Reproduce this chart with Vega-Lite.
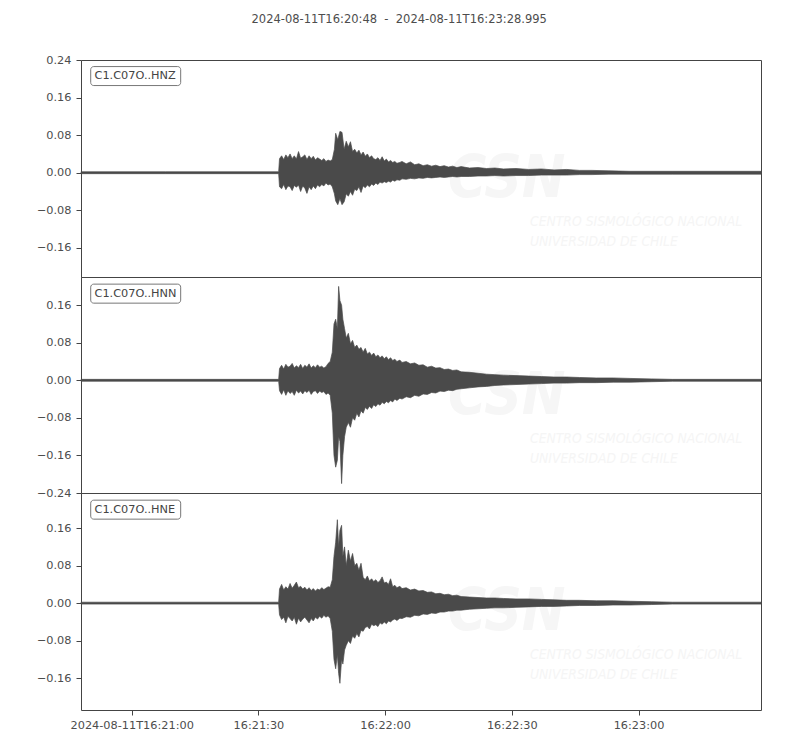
{
  "$schema": "https://vega.github.io/schema/vega-lite/v6.json",
  "background": "white",
  "padding": {"left": 35, "top": 14, "right": 40, "bottom": 5},
  "bounds": "flush",
  "title": {
    "text": "2024-08-11T16:20:48\u00a0\u00a0-\u00a0\u00a02024-08-11T16:23:28.995",
    "font": "DejaVu Sans",
    "fontSize": 11.5,
    "fontWeight": "normal",
    "color": "#4d4d4d",
    "frame": "bounds",
    "anchor": "middle",
    "offset": 28
  },
  "config": {
    "view": {"stroke": "#444444", "strokeWidth": 1},
    "axis": {
      "labelFont": "DejaVu Sans",
      "labelFontSize": 11.3,
      "labelColor": "#4d4d4d",
      "tickColor": "#444444",
      "tickSize": 5,
      "labelPadding": 5,
      "domain": false,
      "grid": false,
      "title": null,
      "labelFlush": false
    },
    "text": {"font": "DejaVu Sans"}
  },
  "spacing": 0,
  "datasets": {
    "wave": [
      {"c": "HNZ", "t": 0, "lo": -0.002, "hi": 0.002},
      {"c": "HNZ", "t": 20, "lo": -0.002, "hi": 0.002},
      {"c": "HNZ", "t": 46.8, "lo": -0.002, "hi": 0.002},
      {"c": "HNZ", "t": 47.0, "lo": -0.03, "hi": 0.03},
      {"c": "HNZ", "t": 47.5, "lo": -0.034, "hi": 0.036},
      {"c": "HNZ", "t": 48.0, "lo": -0.025, "hi": 0.028},
      {"c": "HNZ", "t": 48.5, "lo": -0.036, "hi": 0.038},
      {"c": "HNZ", "t": 49.0, "lo": -0.028, "hi": 0.032},
      {"c": "HNZ", "t": 49.5, "lo": -0.03, "hi": 0.04},
      {"c": "HNZ", "t": 50.0, "lo": -0.038, "hi": 0.03},
      {"c": "HNZ", "t": 50.5, "lo": -0.027, "hi": 0.036},
      {"c": "HNZ", "t": 51.0, "lo": -0.031, "hi": 0.029},
      {"c": "HNZ", "t": 51.5, "lo": -0.026, "hi": 0.045},
      {"c": "HNZ", "t": 52.0, "lo": -0.04, "hi": 0.031},
      {"c": "HNZ", "t": 52.5, "lo": -0.028, "hi": 0.034},
      {"c": "HNZ", "t": 53.0, "lo": -0.033, "hi": 0.038},
      {"c": "HNZ", "t": 53.5, "lo": -0.044, "hi": 0.028},
      {"c": "HNZ", "t": 54.0, "lo": -0.03, "hi": 0.036},
      {"c": "HNZ", "t": 54.5, "lo": -0.036, "hi": 0.03},
      {"c": "HNZ", "t": 55.0, "lo": -0.028, "hi": 0.035},
      {"c": "HNZ", "t": 55.5, "lo": -0.034, "hi": 0.027},
      {"c": "HNZ", "t": 56.0, "lo": -0.026, "hi": 0.032},
      {"c": "HNZ", "t": 56.5, "lo": -0.03, "hi": 0.029},
      {"c": "HNZ", "t": 57.0, "lo": -0.025, "hi": 0.026},
      {"c": "HNZ", "t": 57.5, "lo": -0.028, "hi": 0.03},
      {"c": "HNZ", "t": 58.0, "lo": -0.022, "hi": 0.024},
      {"c": "HNZ", "t": 58.5, "lo": -0.026, "hi": 0.027},
      {"c": "HNZ", "t": 59.0, "lo": -0.024, "hi": 0.025},
      {"c": "HNZ", "t": 59.5, "lo": -0.03, "hi": 0.028},
      {"c": "HNZ", "t": 60.0, "lo": -0.045, "hi": 0.05},
      {"c": "HNZ", "t": 60.3, "lo": -0.06, "hi": 0.084},
      {"c": "HNZ", "t": 60.8, "lo": -0.068, "hi": 0.07},
      {"c": "HNZ", "t": 61.3, "lo": -0.055, "hi": 0.088},
      {"c": "HNZ", "t": 61.8, "lo": -0.068, "hi": 0.086},
      {"c": "HNZ", "t": 62.3, "lo": -0.062, "hi": 0.05},
      {"c": "HNZ", "t": 62.8, "lo": -0.045, "hi": 0.067},
      {"c": "HNZ", "t": 63.3, "lo": -0.05, "hi": 0.055},
      {"c": "HNZ", "t": 63.8, "lo": -0.04, "hi": 0.066},
      {"c": "HNZ", "t": 64.3, "lo": -0.048, "hi": 0.045},
      {"c": "HNZ", "t": 64.8, "lo": -0.035, "hi": 0.05},
      {"c": "HNZ", "t": 65.3, "lo": -0.038, "hi": 0.042},
      {"c": "HNZ", "t": 65.8, "lo": -0.03, "hi": 0.048},
      {"c": "HNZ", "t": 66.3, "lo": -0.042, "hi": 0.038},
      {"c": "HNZ", "t": 66.8, "lo": -0.028, "hi": 0.044},
      {"c": "HNZ", "t": 67.3, "lo": -0.032, "hi": 0.035},
      {"c": "HNZ", "t": 67.8, "lo": -0.026, "hi": 0.04},
      {"c": "HNZ", "t": 68.3, "lo": -0.03, "hi": 0.032},
      {"c": "HNZ", "t": 68.8, "lo": -0.024, "hi": 0.036},
      {"c": "HNZ", "t": 69.3, "lo": -0.027, "hi": 0.03},
      {"c": "HNZ", "t": 69.8, "lo": -0.022, "hi": 0.028},
      {"c": "HNZ", "t": 70.3, "lo": -0.025, "hi": 0.032},
      {"c": "HNZ", "t": 70.8, "lo": -0.02, "hi": 0.026},
      {"c": "HNZ", "t": 71.3, "lo": -0.022, "hi": 0.034},
      {"c": "HNZ", "t": 71.8, "lo": -0.019, "hi": 0.025},
      {"c": "HNZ", "t": 72.3, "lo": -0.021, "hi": 0.029},
      {"c": "HNZ", "t": 72.8, "lo": -0.018, "hi": 0.023},
      {"c": "HNZ", "t": 73.3, "lo": -0.02, "hi": 0.026},
      {"c": "HNZ", "t": 73.8, "lo": -0.016, "hi": 0.022},
      {"c": "HNZ", "t": 74.3, "lo": -0.018, "hi": 0.024},
      {"c": "HNZ", "t": 74.8, "lo": -0.015, "hi": 0.02},
      {"c": "HNZ", "t": 75.5, "lo": -0.016, "hi": 0.022},
      {"c": "HNZ", "t": 76, "lo": -0.013, "hi": 0.024},
      {"c": "HNZ", "t": 77, "lo": -0.014, "hi": 0.019},
      {"c": "HNZ", "t": 78, "lo": -0.012, "hi": 0.023},
      {"c": "HNZ", "t": 79, "lo": -0.013, "hi": 0.017},
      {"c": "HNZ", "t": 80, "lo": -0.011, "hi": 0.019},
      {"c": "HNZ", "t": 81, "lo": -0.012, "hi": 0.015},
      {"c": "HNZ", "t": 82, "lo": -0.01, "hi": 0.017},
      {"c": "HNZ", "t": 83, "lo": -0.011, "hi": 0.014},
      {"c": "HNZ", "t": 84, "lo": -0.01, "hi": 0.016},
      {"c": "HNZ", "t": 85, "lo": -0.009, "hi": 0.013},
      {"c": "HNZ", "t": 86, "lo": -0.01, "hi": 0.015},
      {"c": "HNZ", "t": 87, "lo": -0.009, "hi": 0.012},
      {"c": "HNZ", "t": 88, "lo": -0.008, "hi": 0.014},
      {"c": "HNZ", "t": 89, "lo": -0.009, "hi": 0.011},
      {"c": "HNZ", "t": 90, "lo": -0.008, "hi": 0.013},
      {"c": "HNZ", "t": 92, "lo": -0.008, "hi": 0.01},
      {"c": "HNZ", "t": 94, "lo": -0.007, "hi": 0.011},
      {"c": "HNZ", "t": 96, "lo": -0.007, "hi": 0.009},
      {"c": "HNZ", "t": 98, "lo": -0.006, "hi": 0.01},
      {"c": "HNZ", "t": 100, "lo": -0.007, "hi": 0.008},
      {"c": "HNZ", "t": 103, "lo": -0.006, "hi": 0.009},
      {"c": "HNZ", "t": 106, "lo": -0.006, "hi": 0.007},
      {"c": "HNZ", "t": 109, "lo": -0.005, "hi": 0.008},
      {"c": "HNZ", "t": 112, "lo": -0.005, "hi": 0.006},
      {"c": "HNZ", "t": 115, "lo": -0.005, "hi": 0.007},
      {"c": "HNZ", "t": 118, "lo": -0.004, "hi": 0.005},
      {"c": "HNZ", "t": 121, "lo": -0.004, "hi": 0.005},
      {"c": "HNZ", "t": 125, "lo": -0.003, "hi": 0.004},
      {"c": "HNZ", "t": 130, "lo": -0.003, "hi": 0.003},
      {"c": "HNZ", "t": 140, "lo": -0.003, "hi": 0.003},
      {"c": "HNZ", "t": 161, "lo": -0.003, "hi": 0.003},

      {"c": "HNN", "t": 0, "lo": -0.002, "hi": 0.002},
      {"c": "HNN", "t": 46.8, "lo": -0.002, "hi": 0.002},
      {"c": "HNN", "t": 47.0, "lo": -0.022, "hi": 0.025},
      {"c": "HNN", "t": 47.5, "lo": -0.03, "hi": 0.032},
      {"c": "HNN", "t": 48.0, "lo": -0.02, "hi": 0.024},
      {"c": "HNN", "t": 48.5, "lo": -0.032, "hi": 0.034},
      {"c": "HNN", "t": 49.0, "lo": -0.022, "hi": 0.028},
      {"c": "HNN", "t": 49.5, "lo": -0.028, "hi": 0.03},
      {"c": "HNN", "t": 50.0, "lo": -0.024, "hi": 0.036},
      {"c": "HNN", "t": 50.5, "lo": -0.032, "hi": 0.026},
      {"c": "HNN", "t": 51.0, "lo": -0.021, "hi": 0.031},
      {"c": "HNN", "t": 51.5, "lo": -0.027, "hi": 0.027},
      {"c": "HNN", "t": 52.0, "lo": -0.023, "hi": 0.034},
      {"c": "HNN", "t": 52.5, "lo": -0.029, "hi": 0.025},
      {"c": "HNN", "t": 53.0, "lo": -0.022, "hi": 0.032},
      {"c": "HNN", "t": 53.5, "lo": -0.026, "hi": 0.028},
      {"c": "HNN", "t": 54.0, "lo": -0.021, "hi": 0.035},
      {"c": "HNN", "t": 54.5, "lo": -0.03, "hi": 0.026},
      {"c": "HNN", "t": 55.0, "lo": -0.024, "hi": 0.031},
      {"c": "HNN", "t": 55.5, "lo": -0.022, "hi": 0.027},
      {"c": "HNN", "t": 56.0, "lo": -0.028, "hi": 0.033},
      {"c": "HNN", "t": 56.5, "lo": -0.023, "hi": 0.028},
      {"c": "HNN", "t": 57.0, "lo": -0.026, "hi": 0.03},
      {"c": "HNN", "t": 57.5, "lo": -0.024, "hi": 0.026},
      {"c": "HNN", "t": 58.0, "lo": -0.03, "hi": 0.029},
      {"c": "HNN", "t": 58.5, "lo": -0.027, "hi": 0.036},
      {"c": "HNN", "t": 59.0, "lo": -0.032, "hi": 0.04},
      {"c": "HNN", "t": 59.5, "lo": -0.07, "hi": 0.06},
      {"c": "HNN", "t": 59.9, "lo": -0.16, "hi": 0.12},
      {"c": "HNN", "t": 60.3, "lo": -0.185, "hi": 0.13},
      {"c": "HNN", "t": 60.7, "lo": -0.17, "hi": 0.11},
      {"c": "HNN", "t": 61.0, "lo": -0.12, "hi": 0.2},
      {"c": "HNN", "t": 61.3, "lo": -0.13, "hi": 0.17},
      {"c": "HNN", "t": 61.7, "lo": -0.22, "hi": 0.16},
      {"c": "HNN", "t": 62.0, "lo": -0.16, "hi": 0.13},
      {"c": "HNN", "t": 62.4, "lo": -0.12, "hi": 0.11},
      {"c": "HNN", "t": 62.8, "lo": -0.1, "hi": 0.09},
      {"c": "HNN", "t": 63.3, "lo": -0.09, "hi": 0.1},
      {"c": "HNN", "t": 63.8, "lo": -0.1, "hi": 0.078},
      {"c": "HNN", "t": 64.3, "lo": -0.08, "hi": 0.085},
      {"c": "HNN", "t": 64.8, "lo": -0.085, "hi": 0.07},
      {"c": "HNN", "t": 65.3, "lo": -0.07, "hi": 0.075},
      {"c": "HNN", "t": 65.8, "lo": -0.078, "hi": 0.066},
      {"c": "HNN", "t": 66.3, "lo": -0.065, "hi": 0.07},
      {"c": "HNN", "t": 66.8, "lo": -0.07, "hi": 0.06},
      {"c": "HNN", "t": 67.3, "lo": -0.058, "hi": 0.068},
      {"c": "HNN", "t": 67.8, "lo": -0.062, "hi": 0.056},
      {"c": "HNN", "t": 68.3, "lo": -0.055, "hi": 0.06},
      {"c": "HNN", "t": 68.8, "lo": -0.06, "hi": 0.053},
      {"c": "HNN", "t": 69.3, "lo": -0.052, "hi": 0.058},
      {"c": "HNN", "t": 69.8, "lo": -0.056, "hi": 0.05},
      {"c": "HNN", "t": 70.3, "lo": -0.05, "hi": 0.054},
      {"c": "HNN", "t": 70.8, "lo": -0.053, "hi": 0.048},
      {"c": "HNN", "t": 71.3, "lo": -0.047, "hi": 0.052},
      {"c": "HNN", "t": 71.8, "lo": -0.05, "hi": 0.046},
      {"c": "HNN", "t": 72.3, "lo": -0.045, "hi": 0.05},
      {"c": "HNN", "t": 72.8, "lo": -0.048, "hi": 0.044},
      {"c": "HNN", "t": 73.3, "lo": -0.043, "hi": 0.048},
      {"c": "HNN", "t": 73.8, "lo": -0.046, "hi": 0.042},
      {"c": "HNN", "t": 74.3, "lo": -0.04, "hi": 0.045},
      {"c": "HNN", "t": 74.8, "lo": -0.043, "hi": 0.04},
      {"c": "HNN", "t": 75.5, "lo": -0.038, "hi": 0.043},
      {"c": "HNN", "t": 76, "lo": -0.04, "hi": 0.038},
      {"c": "HNN", "t": 77, "lo": -0.035, "hi": 0.04},
      {"c": "HNN", "t": 78, "lo": -0.037, "hi": 0.035},
      {"c": "HNN", "t": 79, "lo": -0.032, "hi": 0.037},
      {"c": "HNN", "t": 80, "lo": -0.034, "hi": 0.032},
      {"c": "HNN", "t": 81, "lo": -0.029, "hi": 0.033},
      {"c": "HNN", "t": 82, "lo": -0.03, "hi": 0.028},
      {"c": "HNN", "t": 83, "lo": -0.026, "hi": 0.03},
      {"c": "HNN", "t": 84, "lo": -0.027, "hi": 0.026},
      {"c": "HNN", "t": 85, "lo": -0.023, "hi": 0.027},
      {"c": "HNN", "t": 86, "lo": -0.024, "hi": 0.023},
      {"c": "HNN", "t": 87, "lo": -0.021, "hi": 0.024},
      {"c": "HNN", "t": 88, "lo": -0.022, "hi": 0.021},
      {"c": "HNN", "t": 89, "lo": -0.019, "hi": 0.022},
      {"c": "HNN", "t": 90, "lo": -0.018, "hi": 0.018},
      {"c": "HNN", "t": 92, "lo": -0.016, "hi": 0.017},
      {"c": "HNN", "t": 94, "lo": -0.014, "hi": 0.015},
      {"c": "HNN", "t": 96, "lo": -0.013, "hi": 0.013},
      {"c": "HNN", "t": 98, "lo": -0.011, "hi": 0.012},
      {"c": "HNN", "t": 100, "lo": -0.01, "hi": 0.011},
      {"c": "HNN", "t": 103, "lo": -0.009, "hi": 0.01},
      {"c": "HNN", "t": 106, "lo": -0.008, "hi": 0.009},
      {"c": "HNN", "t": 109, "lo": -0.007, "hi": 0.008},
      {"c": "HNN", "t": 112, "lo": -0.006, "hi": 0.007},
      {"c": "HNN", "t": 115, "lo": -0.006, "hi": 0.007},
      {"c": "HNN", "t": 118, "lo": -0.005, "hi": 0.006},
      {"c": "HNN", "t": 122, "lo": -0.005, "hi": 0.005},
      {"c": "HNN", "t": 126, "lo": -0.004, "hi": 0.005},
      {"c": "HNN", "t": 130, "lo": -0.004, "hi": 0.004},
      {"c": "HNN", "t": 135, "lo": -0.003, "hi": 0.003},
      {"c": "HNN", "t": 140, "lo": -0.002, "hi": 0.002},
      {"c": "HNN", "t": 161, "lo": -0.002, "hi": 0.002},

      {"c": "HNE", "t": 0, "lo": -0.002, "hi": 0.002},
      {"c": "HNE", "t": 46.8, "lo": -0.002, "hi": 0.002},
      {"c": "HNE", "t": 47.0, "lo": -0.025, "hi": 0.03},
      {"c": "HNE", "t": 47.5, "lo": -0.035, "hi": 0.04},
      {"c": "HNE", "t": 48.0, "lo": -0.03, "hi": 0.028},
      {"c": "HNE", "t": 48.5, "lo": -0.042, "hi": 0.035},
      {"c": "HNE", "t": 49.0, "lo": -0.028, "hi": 0.03},
      {"c": "HNE", "t": 49.5, "lo": -0.033, "hi": 0.042},
      {"c": "HNE", "t": 50.0, "lo": -0.038, "hi": 0.032},
      {"c": "HNE", "t": 50.5, "lo": -0.03, "hi": 0.038},
      {"c": "HNE", "t": 51.0, "lo": -0.045, "hi": 0.045},
      {"c": "HNE", "t": 51.5, "lo": -0.032, "hi": 0.033},
      {"c": "HNE", "t": 52.0, "lo": -0.04, "hi": 0.036},
      {"c": "HNE", "t": 52.5, "lo": -0.034, "hi": 0.03},
      {"c": "HNE", "t": 53.0, "lo": -0.03, "hi": 0.034},
      {"c": "HNE", "t": 53.5, "lo": -0.036, "hi": 0.028},
      {"c": "HNE", "t": 54.0, "lo": -0.042, "hi": 0.033},
      {"c": "HNE", "t": 54.5, "lo": -0.033, "hi": 0.027},
      {"c": "HNE", "t": 55.0, "lo": -0.038, "hi": 0.031},
      {"c": "HNE", "t": 55.5, "lo": -0.03, "hi": 0.026},
      {"c": "HNE", "t": 56.0, "lo": -0.034, "hi": 0.03},
      {"c": "HNE", "t": 56.5, "lo": -0.028, "hi": 0.028},
      {"c": "HNE", "t": 57.0, "lo": -0.032, "hi": 0.033},
      {"c": "HNE", "t": 57.5, "lo": -0.026, "hi": 0.029},
      {"c": "HNE", "t": 58.0, "lo": -0.03, "hi": 0.032},
      {"c": "HNE", "t": 58.5, "lo": -0.027, "hi": 0.035},
      {"c": "HNE", "t": 59.0, "lo": -0.033, "hi": 0.034},
      {"c": "HNE", "t": 59.5, "lo": -0.06, "hi": 0.05},
      {"c": "HNE", "t": 59.9, "lo": -0.12, "hi": 0.1},
      {"c": "HNE", "t": 60.3, "lo": -0.14, "hi": 0.13},
      {"c": "HNE", "t": 60.7, "lo": -0.11, "hi": 0.178},
      {"c": "HNE", "t": 61.0, "lo": -0.15, "hi": 0.12},
      {"c": "HNE", "t": 61.3, "lo": -0.171, "hi": 0.155},
      {"c": "HNE", "t": 61.7, "lo": -0.12, "hi": 0.166},
      {"c": "HNE", "t": 62.0, "lo": -0.13, "hi": 0.1},
      {"c": "HNE", "t": 62.4, "lo": -0.1, "hi": 0.12},
      {"c": "HNE", "t": 62.8, "lo": -0.09, "hi": 0.08},
      {"c": "HNE", "t": 63.3, "lo": -0.08, "hi": 0.113},
      {"c": "HNE", "t": 63.8, "lo": -0.086, "hi": 0.09},
      {"c": "HNE", "t": 64.3, "lo": -0.07, "hi": 0.106},
      {"c": "HNE", "t": 64.8, "lo": -0.075, "hi": 0.08},
      {"c": "HNE", "t": 65.3, "lo": -0.065, "hi": 0.085},
      {"c": "HNE", "t": 65.8, "lo": -0.072, "hi": 0.07},
      {"c": "HNE", "t": 66.3, "lo": -0.058, "hi": 0.085},
      {"c": "HNE", "t": 66.8, "lo": -0.06, "hi": 0.055},
      {"c": "HNE", "t": 67.3, "lo": -0.052, "hi": 0.05},
      {"c": "HNE", "t": 67.8, "lo": -0.05, "hi": 0.058},
      {"c": "HNE", "t": 68.3, "lo": -0.055, "hi": 0.047},
      {"c": "HNE", "t": 68.8, "lo": -0.045, "hi": 0.052},
      {"c": "HNE", "t": 69.3, "lo": -0.048, "hi": 0.046},
      {"c": "HNE", "t": 69.8, "lo": -0.046, "hi": 0.05},
      {"c": "HNE", "t": 70.3, "lo": -0.05, "hi": 0.044},
      {"c": "HNE", "t": 70.8, "lo": -0.042, "hi": 0.048},
      {"c": "HNE", "t": 71.3, "lo": -0.045, "hi": 0.056},
      {"c": "HNE", "t": 71.8, "lo": -0.04, "hi": 0.043},
      {"c": "HNE", "t": 72.3, "lo": -0.044, "hi": 0.045},
      {"c": "HNE", "t": 72.8, "lo": -0.038, "hi": 0.04},
      {"c": "HNE", "t": 73.3, "lo": -0.04, "hi": 0.052},
      {"c": "HNE", "t": 73.8, "lo": -0.036, "hi": 0.035},
      {"c": "HNE", "t": 74.3, "lo": -0.034, "hi": 0.038},
      {"c": "HNE", "t": 74.8, "lo": -0.037, "hi": 0.033},
      {"c": "HNE", "t": 75.5, "lo": -0.032, "hi": 0.036},
      {"c": "HNE", "t": 76, "lo": -0.033, "hi": 0.031},
      {"c": "HNE", "t": 77, "lo": -0.029, "hi": 0.033},
      {"c": "HNE", "t": 78, "lo": -0.03, "hi": 0.028},
      {"c": "HNE", "t": 79, "lo": -0.026, "hi": 0.03},
      {"c": "HNE", "t": 80, "lo": -0.027, "hi": 0.026},
      {"c": "HNE", "t": 81, "lo": -0.023, "hi": 0.027},
      {"c": "HNE", "t": 82, "lo": -0.024, "hi": 0.023},
      {"c": "HNE", "t": 83, "lo": -0.021, "hi": 0.024},
      {"c": "HNE", "t": 84, "lo": -0.022, "hi": 0.02},
      {"c": "HNE", "t": 85, "lo": -0.019, "hi": 0.021},
      {"c": "HNE", "t": 86, "lo": -0.019, "hi": 0.018},
      {"c": "HNE", "t": 87, "lo": -0.017, "hi": 0.019},
      {"c": "HNE", "t": 88, "lo": -0.017, "hi": 0.016},
      {"c": "HNE", "t": 89, "lo": -0.015, "hi": 0.017},
      {"c": "HNE", "t": 90, "lo": -0.015, "hi": 0.014},
      {"c": "HNE", "t": 92, "lo": -0.013, "hi": 0.013},
      {"c": "HNE", "t": 94, "lo": -0.012, "hi": 0.012},
      {"c": "HNE", "t": 96, "lo": -0.011, "hi": 0.011},
      {"c": "HNE", "t": 98, "lo": -0.01, "hi": 0.011},
      {"c": "HNE", "t": 100, "lo": -0.01, "hi": 0.01},
      {"c": "HNE", "t": 103, "lo": -0.009, "hi": 0.009},
      {"c": "HNE", "t": 106, "lo": -0.008, "hi": 0.009},
      {"c": "HNE", "t": 109, "lo": -0.007, "hi": 0.008},
      {"c": "HNE", "t": 112, "lo": -0.007, "hi": 0.007},
      {"c": "HNE", "t": 115, "lo": -0.006, "hi": 0.006},
      {"c": "HNE", "t": 118, "lo": -0.005, "hi": 0.006},
      {"c": "HNE", "t": 122, "lo": -0.005, "hi": 0.005},
      {"c": "HNE", "t": 126, "lo": -0.004, "hi": 0.005},
      {"c": "HNE", "t": 130, "lo": -0.004, "hi": 0.004},
      {"c": "HNE", "t": 135, "lo": -0.003, "hi": 0.003},
      {"c": "HNE", "t": 140, "lo": -0.002, "hi": 0.002},
      {"c": "HNE", "t": 161, "lo": -0.002, "hi": 0.002}
    ]
  },
  "vconcat": [
    {
      "width": 680,
      "height": 217,
      "layer": [
        {
          "data": {"values": [{}]},
          "mark": {"type": "text", "text": "CSN", "fontSize": 58, "fontWeight": "bold", "fontStyle": "italic", "font": "DejaVu Sans Condensed, Liberation Sans, sans-serif", "color": "#f6f6f6", "align": "center", "baseline": "middle"},
          "encoding": {"x": {"datum": 100.8, "type": "quantitative"}, "y": {"datum": -0.0149, "type": "quantitative"}}
        },
        {
          "data": {"values": [{"s": "CENTRO SISMOLÓGICO NACIONAL"}]},
          "mark": {"type": "text", "fontSize": 13.8, "fontStyle": "italic", "font": "DejaVu Sans Condensed, Liberation Sans, sans-serif", "color": "#f5f5f5", "align": "left", "baseline": "middle"},
          "encoding": {"text": {"field": "s"}, "x": {"datum": 106.3, "type": "quantitative"}, "y": {"datum": -0.1045, "type": "quantitative"}}
        },
        {
          "data": {"values": [{"s": "UNIVERSIDAD DE CHILE"}]},
          "mark": {"type": "text", "fontSize": 13.8, "fontStyle": "italic", "font": "DejaVu Sans Condensed, Liberation Sans, sans-serif", "color": "#f5f5f5", "align": "left", "baseline": "middle"},
          "encoding": {"text": {"field": "s"}, "x": {"datum": 106.3, "type": "quantitative"}, "y": {"datum": -0.1472, "type": "quantitative"}}
        },
        {
          "data": {"name": "wave"},
          "transform": [{"filter": "datum.c == 'HNZ'"}],
          "mark": {"type": "area", "color": "#4a4a4a", "stroke": "#4a4a4a", "strokeWidth": 0.7},
          "encoding": {
            "x": {"field": "t", "type": "quantitative", "scale": {"domain": [0, 161], "nice": false, "zero": false}, "axis": null},
            "y": {"field": "lo", "type": "quantitative", "scale": {"domain": [-0.222, 0.24], "nice": false, "zero": false},
                  "axis": {"values": [-0.16, -0.08, 0, 0.08, 0.16, 0.24], "format": ".2f", "minExtent": 45, "maxExtent": 45}},
            "y2": {"field": "hi"}
          }
        },
        {
          "data": {"values": [{}]},
          "mark": {"type": "rect", "fill": "white", "stroke": "#777777", "strokeWidth": 1, "cornerRadius": 3},
          "encoding": {"x": {"datum": 2.3, "type": "quantitative"}, "x2": {"datum": 23.6}, "y": {"datum": 0.226, "type": "quantitative"}, "y2": {"datum": 0.1856}}
        },
        {
          "data": {"values": [{"s": "C1.C07O..HNZ"}]},
          "mark": {"type": "text", "fontSize": 11.3, "color": "#444444", "align": "left", "baseline": "middle"},
          "encoding": {"text": {"field": "s"}, "x": {"datum": 3.2, "type": "quantitative"}, "y": {"datum": 0.2059, "type": "quantitative"}}
        }
      ]
    },
    {
      "width": 680,
      "height": 216,
      "layer": [
        {
          "data": {"values": [{}]},
          "mark": {"type": "text", "text": "CSN", "fontSize": 58, "fontWeight": "bold", "fontStyle": "italic", "font": "DejaVu Sans Condensed, Liberation Sans, sans-serif", "color": "#f6f6f6", "align": "center", "baseline": "middle"},
          "encoding": {"x": {"datum": 100.8, "type": "quantitative"}, "y": {"datum": -0.0363, "type": "quantitative"}}
        },
        {
          "data": {"values": [{"s": "CENTRO SISMOLÓGICO NACIONAL"}]},
          "mark": {"type": "text", "fontSize": 13.8, "fontStyle": "italic", "font": "DejaVu Sans Condensed, Liberation Sans, sans-serif", "color": "#f5f5f5", "align": "left", "baseline": "middle"},
          "encoding": {"text": {"field": "s"}, "x": {"datum": 106.3, "type": "quantitative"}, "y": {"datum": -0.1259, "type": "quantitative"}}
        },
        {
          "data": {"values": [{"s": "UNIVERSIDAD DE CHILE"}]},
          "mark": {"type": "text", "fontSize": 13.8, "fontStyle": "italic", "font": "DejaVu Sans Condensed, Liberation Sans, sans-serif", "color": "#f5f5f5", "align": "left", "baseline": "middle"},
          "encoding": {"text": {"field": "s"}, "x": {"datum": 106.3, "type": "quantitative"}, "y": {"datum": -0.1685, "type": "quantitative"}}
        },
        {
          "data": {"name": "wave"},
          "transform": [{"filter": "datum.c == 'HNN'"}],
          "mark": {"type": "area", "color": "#4a4a4a", "stroke": "#4a4a4a", "strokeWidth": 0.7},
          "encoding": {
            "x": {"field": "t", "type": "quantitative", "scale": {"domain": [0, 161], "nice": false, "zero": false}, "axis": null},
            "y": {"field": "lo", "type": "quantitative", "scale": {"domain": [-0.24, 0.22], "nice": false, "zero": false},
                  "axis": {"values": [-0.24, -0.16, -0.08, 0, 0.08, 0.16], "format": ".2f", "minExtent": 45, "maxExtent": 45}},
            "y2": {"field": "hi"}
          }
        },
        {
          "data": {"values": [{}]},
          "mark": {"type": "rect", "fill": "white", "stroke": "#777777", "strokeWidth": 1, "cornerRadius": 3},
          "encoding": {"x": {"datum": 2.3, "type": "quantitative"}, "x2": {"datum": 23.6}, "y": {"datum": 0.2048, "type": "quantitative"}, "y2": {"datum": 0.1643}}
        },
        {
          "data": {"values": [{"s": "C1.C07O..HNN"}]},
          "mark": {"type": "text", "fontSize": 11.3, "color": "#444444", "align": "left", "baseline": "middle"},
          "encoding": {"text": {"field": "s"}, "x": {"datum": 3.2, "type": "quantitative"}, "y": {"datum": 0.1845, "type": "quantitative"}}
        }
      ]
    },
    {
      "width": 680,
      "height": 217,
      "layer": [
        {
          "data": {"values": [{}]},
          "mark": {"type": "text", "text": "CSN", "fontSize": 58, "fontWeight": "bold", "fontStyle": "italic", "font": "DejaVu Sans Condensed, Liberation Sans, sans-serif", "color": "#f6f6f6", "align": "center", "baseline": "middle"},
          "encoding": {"x": {"datum": 100.8, "type": "quantitative"}, "y": {"datum": -0.0213, "type": "quantitative"}}
        },
        {
          "data": {"values": [{"s": "CENTRO SISMOLÓGICO NACIONAL"}]},
          "mark": {"type": "text", "fontSize": 13.8, "fontStyle": "italic", "font": "DejaVu Sans Condensed, Liberation Sans, sans-serif", "color": "#f5f5f5", "align": "left", "baseline": "middle"},
          "encoding": {"text": {"field": "s"}, "x": {"datum": 106.3, "type": "quantitative"}, "y": {"datum": -0.1109, "type": "quantitative"}}
        },
        {
          "data": {"values": [{"s": "UNIVERSIDAD DE CHILE"}]},
          "mark": {"type": "text", "fontSize": 13.8, "fontStyle": "italic", "font": "DejaVu Sans Condensed, Liberation Sans, sans-serif", "color": "#f5f5f5", "align": "left", "baseline": "middle"},
          "encoding": {"text": {"field": "s"}, "x": {"datum": 106.3, "type": "quantitative"}, "y": {"datum": -0.1536, "type": "quantitative"}}
        },
        {
          "data": {"name": "wave"},
          "transform": [{"filter": "datum.c == 'HNE'"}],
          "mark": {"type": "area", "color": "#4a4a4a", "stroke": "#4a4a4a", "strokeWidth": 0.7},
          "encoding": {
            "x": {"field": "t", "type": "quantitative", "scale": {"domain": [0, 161], "nice": false, "zero": false},
                  "axis": {"values": [12, 42, 72, 102, 132], "tickSize": 5, "labelPadding": 4,
                           "labelExpr": "datum.value == 12 ? '2024-08-11T16:21:00' : datum.value == 42 ? '16:21:30' : datum.value == 72 ? '16:22:00' : datum.value == 102 ? '16:22:30' : '16:23:00'"}},
            "y": {"field": "lo", "type": "quantitative", "scale": {"domain": [-0.228, 0.235], "nice": false, "zero": false},
                  "axis": {"values": [-0.16, -0.08, 0, 0.08, 0.16], "format": ".2f", "minExtent": 45, "maxExtent": 45}},
            "y2": {"field": "hi"}
          }
        },
        {
          "data": {"values": [{}]},
          "mark": {"type": "rect", "fill": "white", "stroke": "#777777", "strokeWidth": 1, "cornerRadius": 3},
          "encoding": {"x": {"datum": 2.3, "type": "quantitative"}, "x2": {"datum": 23.6}, "y": {"datum": 0.2197, "type": "quantitative"}, "y2": {"datum": 0.1792}}
        },
        {
          "data": {"values": [{"s": "C1.C07O..HNE"}]},
          "mark": {"type": "text", "fontSize": 11.3, "color": "#444444", "align": "left", "baseline": "middle"},
          "encoding": {"text": {"field": "s"}, "x": {"datum": 3.2, "type": "quantitative"}, "y": {"datum": 0.1994, "type": "quantitative"}}
        }
      ]
    }
  ]
}
